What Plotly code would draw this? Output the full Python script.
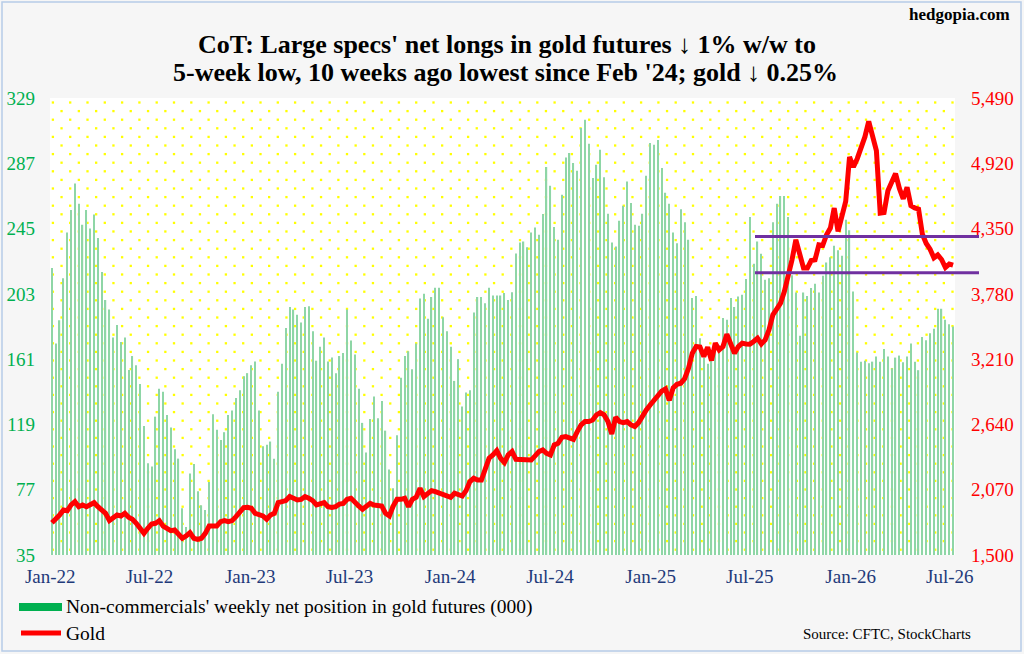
import numpy as np
import pandas as pd
import plotly.graph_objects as go

# Non-commercials' weekly net position in gold futures (000), Jan-22 .. Jul-26
net_longs = [
    219.6, 171, 186, 213, 242.5, 257, 274, 261, 247.5, 257,
    245, 254, 239, 217, 199, 193, 175, 183, 172, 175,
    154, 163, 157, 145, 118, 94, 92, 124, 142, 140,
    125, 117, 103, 97, 65, 53, 87.5, 93.6, 76, 67,
    64, 82, 125.6, 115.5, 109, 114, 125, 128, 136, 141,
    150, 152, 157, 159.5, 128, 105, 106, 108, 97, 140,
    158, 181, 194.5, 193, 189.5, 184.6, 194.5, 195, 179, 160,
    169, 175, 159.5, 162, 152, 163, 165, 193, 173, 164,
    142, 120, 101, 122.5, 137, 123, 134, 115, 90, 78,
    112, 149, 163, 166, 154.5, 171, 200, 203, 187, 201,
    207, 207, 188, 179, 169, 147, 161, 130.5, 139.5, 141,
    191, 201, 201, 197, 207, 202, 202, 202, 203.5, 199,
    204, 229, 236, 236.7, 233, 242.5, 245.7, 241, 254.3, 284.6,
    272.6, 246, 237.8, 266.7, 290.8, 293.6, 287.2, 282.2, 309.7, 315,
    299.6, 277.5, 286, 295.7, 278, 254.5, 236, 233.5, 250, 259.7,
    275.3, 261.4, 247.4, 246.8, 254.5, 279, 300, 299, 302, 284,
    268, 261, 242.5, 235.6, 257.5, 249, 237.8, 200.3, 201.7, 174.5,
    162, 158, 165, 168, 170, 187.4, 186.3, 200.3, 194.5, 201.3,
    202.4, 212.5, 252.4, 222.3, 236.7, 228.8, 212, 213, 249, 261,
    266, 266, 252.4, 215, 203.9, 176, 203.9, 201.7, 206.7, 209.5,
    203.9, 214.6, 223.2, 226.6, 234, 231, 227.5, 250.7, 244, 204.5,
    165.2, 159.4, 160, 158.4, 159.4, 162.7, 159.4, 167.6, 162.7, 155.2,
    162, 163.3, 159, 162.7, 171, 159.4, 153.9, 175.3, 173.2, 177.7,
    180.5, 193.4, 193.4, 186.3, 183.5, 182,
]

# Gold price, same weeks
gold = [
    1782, 1812, 1849, 1893, 1887, 1937, 1966, 1922, 1937, 1922,
    1937, 1957, 1922, 1899, 1864, 1800, 1829, 1849, 1841, 1864,
    1829, 1812, 1777, 1733, 1689, 1733, 1771, 1777, 1800, 1752,
    1733, 1713, 1718, 1683, 1646, 1666, 1695, 1646, 1637, 1646,
    1689, 1753, 1748, 1753, 1791, 1800, 1791, 1800, 1835, 1879,
    1914, 1916, 1908, 1864, 1858, 1841, 1812, 1849, 1864, 1957,
    1966, 1975, 2010, 1995, 1980, 1986, 2010, 1995, 1975, 1937,
    1951, 1957, 1922, 1916, 1922, 1945, 1951, 1986, 1995, 1957,
    1928, 1899, 1928, 1951, 1937, 1937, 1928, 1864, 1841, 1928,
    1986, 1986, 1995, 1922, 1986, 2004, 2082, 2010, 2039, 2062,
    2053, 2039, 2033, 2015, 2004, 2039, 2024, 2015, 2062, 2141,
    2170, 2155, 2155, 2243, 2345, 2374, 2411, 2345, 2307, 2374,
    2403, 2336, 2336, 2330, 2330, 2330, 2365, 2403, 2417, 2388,
    2374, 2461, 2476, 2528, 2534, 2519, 2510, 2577, 2636, 2665,
    2665, 2679, 2723, 2743, 2723, 2665, 2557, 2703, 2665, 2656,
    2665, 2636, 2621, 2656, 2723, 2767, 2810, 2848, 2898, 2930,
    2950, 2850, 2960, 2990, 3000, 3040, 3130, 3262, 3320, 3315,
    3233, 3315, 3198, 3350, 3291, 3320, 3428, 3335, 3262, 3320,
    3350, 3343, 3341, 3364, 3393, 3343, 3378, 3466, 3597, 3647,
    3699, 3800, 3931, 4077, 4252, 4112, 4005, 4005, 4071, 4077,
    4208, 4202, 4296, 4354, 4529, 4325, 4470, 4587, 4975, 4887,
    4960, 5060, 5150, 5286, 5160, 5030, 4485, 4490, 4680, 4760,
    4830, 4700, 4610, 4710, 4550, 4530, 4520, 4300, 4220, 4170,
    4095, 4120, 4080, 4010, 4040, 4030,
]

weeks = pd.date_range("2022-01-04", periods=len(net_longs), freq="7D")

support_levels = [3964, 4280]          # purple horizontal lines on the gold scale
left_ticks = list(range(35, 330, 42))
right_ticks = list(range(1500, 5491, 570))

# page geometry (pixels)
W, H = 1024, 654
L, R, T, B = 50, 69, 98, 99
PW, PH = W - L - R, H - T - B
SERIF = "Liberation Serif, Times New Roman, serif"


def fx(px):
    return (px - L) / PW


def fy(py):
    return (H - B - py) / PH


def fg(value):
    return (value - right_ticks[0]) / (right_ticks[-1] - right_ticks[0])


# yellow dotted plot-area fill (staggered pattern)
dot_x, dot_y = [], []
for r, yy in enumerate(np.arange(4.5, PH, 8.6)):
    xs = np.arange(2.9 if r % 2 == 0 else 11.55, PW, 17.3)
    dot_x.extend(xs)
    dot_y.extend([PH - yy] * len(xs))

fig = go.Figure()

fig.add_trace(go.Scatter(x=dot_x, y=dot_y, mode="markers", hoverinfo="skip",
                         marker=dict(symbol="square", size=2.3, color="#ffff00"),
                         showlegend=False))

fig.add_trace(go.Bar(x=weeks, y=net_longs, xaxis="x2", yaxis="y2",
                     marker=dict(color="#8ed6a6", line_width=0),
                     name="Non-commercials' weekly net position in gold futures (000)",
                     showlegend=False))

fig.add_trace(go.Scatter(x=weeks, y=gold, xaxis="x2", yaxis="y3", mode="lines",
                         line=dict(color="#ff0000", width=5),
                         name="Gold", showlegend=False))

shapes = []
for lvl in support_levels:
    shapes.append(dict(type="line", xref="paper", yref="paper",
                       x0=fx(755), x1=fx(979), y0=fg(lvl), y1=fg(lvl),
                       line=dict(color="#7030a0", width=3)))

# legend, drawn by hand
shapes.append(dict(type="rect", xref="paper", yref="paper",
                   x0=fx(19), x1=fx(62), y0=fy(611), y1=fy(603),
                   fillcolor="#00b050", line_width=0))
shapes.append(dict(type="line", xref="paper", yref="paper",
                   x0=fx(21), x1=fx(61), y0=fy(633), y1=fy(633),
                   line=dict(color="#ff0000", width=5)))

# outer frame
shapes.append(dict(type="rect", xref="paper", yref="paper",
                   x0=fx(2), x1=fx(1021), y0=fy(651), y1=fy(2),
                   line=dict(color="#b7cce8", width=1.5)))

annotations = [
    dict(text="<b>CoT: Large specs' net longs in gold futures ↓ 1% w/w to</b>",
         x=fx(507), y=fy(44), font=dict(size=26)),
    dict(text="<b>5-week low, 10 weeks ago lowest since Feb '24; gold ↓ 0.25%</b>",
         x=fx(506), y=fy(73), font=dict(size=26)),
    dict(text="<b>hedgopia.com</b>", x=fx(1012), y=fy(14), xanchor="right",
         font=dict(size=17)),
    dict(text="Non-commercials' weekly net position in gold futures (000)",
         x=fx(64), y=fy(607), xanchor="left", font=dict(size=19.5)),
    dict(text="Gold", x=fx(64), y=fy(633), xanchor="left", font=dict(size=19.5)),
    dict(text="Source: CFTC, StockCharts", x=fx(973), y=fy(634), xanchor="right",
         font=dict(size=15)),
]
for a in annotations:
    a.update(xref="paper", yref="paper", showarrow=False, yanchor="middle")
    a.setdefault("xanchor", "center")
    a["font"].update(family=SERIF, color="black")

fig.update_layout(
    width=W, height=H,
    margin=dict(l=L, r=R, t=T, b=B, autoexpand=False),
    paper_bgcolor="#f6f6f6",
    plot_bgcolor="white",
    bargap=0.68,
    shapes=shapes,
    annotations=annotations,
    xaxis=dict(range=[0, PW], visible=False, fixedrange=True, automargin=False),
    yaxis=dict(range=[0, PH], visible=False, fixedrange=True, automargin=False),
    xaxis2=dict(overlaying="x", anchor="y2", type="date", automargin=False,
                range=[weeks[0] - pd.Timedelta(hours=84), weeks[-1] + pd.Timedelta(hours=84)],
                tick0="2022-01-01", dtick="M6", tickformat="%b-%y",
                showgrid=False, zeroline=False, showline=False, ticks="",
                ticklabelstandoff=8,
                tickfont=dict(family=SERIF, size=19, color="#1f3a7a")),
    yaxis2=dict(overlaying="y", anchor="x2", side="left", automargin=False,
                range=[left_ticks[0], left_ticks[-1]], tickvals=left_ticks,
                showgrid=False, zeroline=False, showline=False, ticks="",
                ticklabelstandoff=14,
                tickfont=dict(family=SERIF, size=19, color="#00b050")),
    yaxis3=dict(overlaying="y", anchor="x2", side="right", automargin=False,
                range=[right_ticks[0], right_ticks[-1]], tickvals=right_ticks,
                tickformat=",d",
                showgrid=False, zeroline=False, showline=False, ticks="",
                ticklabelstandoff=15,
                tickfont=dict(family=SERIF, size=19, color="#ff0000")),
)

# the default page has an 8px body margin; drop it so the figure sits at the window corner
fig.write_html("out.html", config={"displayModeBar": False},
               post_script="document.body.style.margin = '0';")
